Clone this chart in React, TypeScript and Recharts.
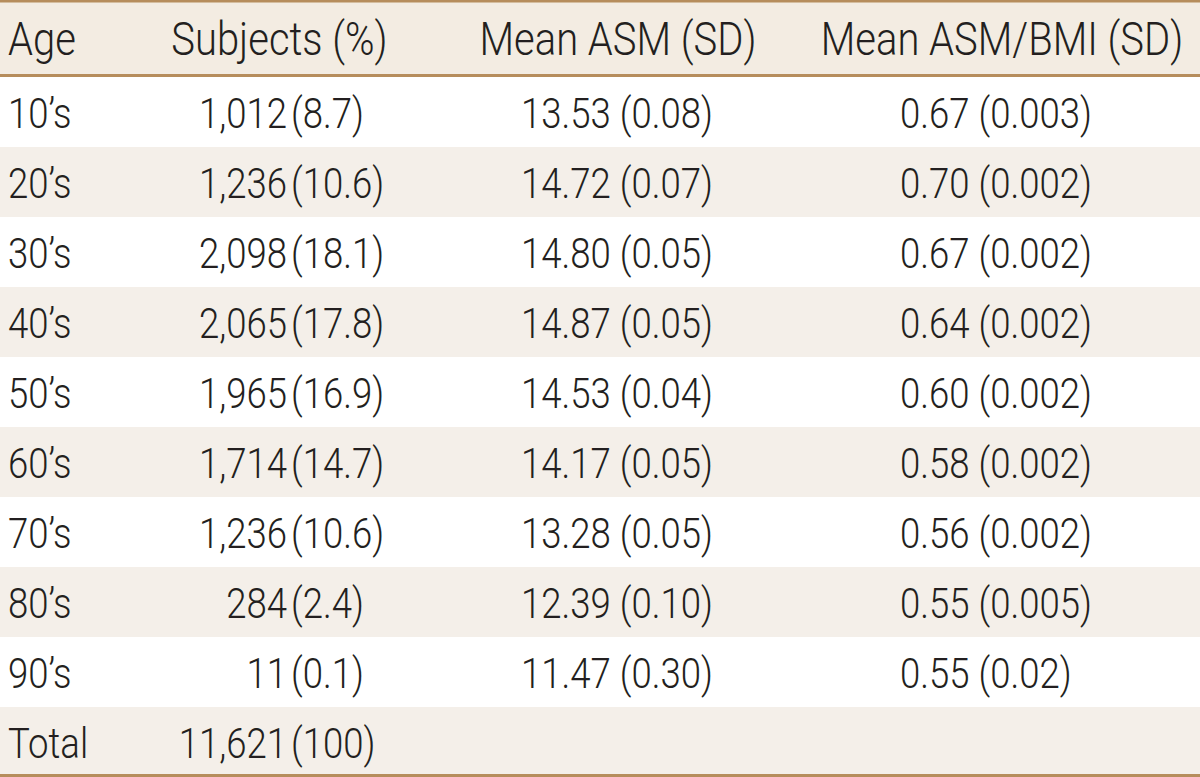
import { BarChart, Bar, XAxis, YAxis } from "recharts";

const headers = ["Age", "Subjects (%)", "Mean ASM (SD)", "Mean ASM/BMI (SD)"];
const ages = ["10’s", "20’s", "30’s", "40’s", "50’s", "60’s", "70’s", "80’s", "90’s", "Total"];
const subjectN = ["1,012", "1,236", "2,098", "2,065", "1,965", "1,714", "1,236", "284", "11", "11,621"];
const subjectPct = ["8.7", "10.6", "18.1", "17.8", "16.9", "14.7", "10.6", "2.4", "0.1", "100"];
const asmMean = ["13.53", "14.72", "14.80", "14.87", "14.53", "14.17", "13.28", "12.39", "11.47", ""];
const asmSd = ["0.08", "0.07", "0.05", "0.05", "0.04", "0.05", "0.05", "0.10", "0.30", ""];
const bmiMean = ["0.67", "0.70", "0.67", "0.64", "0.60", "0.58", "0.56", "0.55", "0.55", ""];
const bmiSd = ["0.003", "0.002", "0.002", "0.002", "0.002", "0.002", "0.002", "0.005", "0.02", ""];

const LINE = "#b68d5c";
const HEAD_BG = "#f3ece2";
const STRIPE = "#f4efe9";
const INK = "#231f20";
const FONT = "Roboto, 'Noto Sans', sans-serif";
const SQUEEZE = 0.85;

const rows = [
  { key: "head", band: 1 },
  ...ages.map((a) => ({ key: a, band: 1 })),
];

// condensed-looking text: light face squeezed horizontally
function T({ x, y, anchor = "start", size = 43, children }: any) {
  return (
    <text
      transform={`translate(${x} ${y}) scale(${SQUEEZE} 1)`}
      x={0}
      y={0}
      textAnchor={anchor}
      fontFamily={FONT}
      fontSize={size}
      fontWeight={300}
      fill={INK}
    >
      {children}
    </text>
  );
}

function RowShape(props: any) {
  const { x, y, width, height, index } = props;
  const mid = y + height / 2;

  if (index === 0) {
    const base = mid + 12.5;
    return (
      <g>
        <rect x={x} y={0} width={width} height={y + height} fill={HEAD_BG} />
        <rect x={x} y={0} width={width} height={2.5} fill={LINE} />
        <rect x={x} y={y + height - 3} width={width} height={3} fill={LINE} />
        <T x={8} y={base} size={47}>{headers[0]}</T>
        <T x={279.5} y={base} size={47} anchor="middle">{headers[1]}</T>
        <T x={618} y={base} size={47} anchor="middle">{headers[2]}</T>
        <T x={1002} y={base} size={47} anchor="middle">{headers[3]}</T>
      </g>
    );
  }

  const i = index - 1;
  const base = mid + 15.5;
  const last = i === ages.length - 1;
  return (
    <g>
      <rect x={x} y={y} width={width} height={height} fill={i % 2 === 1 ? STRIPE : "#ffffff"} />
      {last && <rect x={x} y={y + height - 3} width={width} height={3} fill={LINE} />}
      <T x={8} y={base}>{ages[i]}</T>
      <T x={287} y={base} anchor="end">{subjectN[i]}</T>
      <T x={291} y={base}>({subjectPct[i]})</T>
      {asmMean[i] && <T x={521} y={base}>{asmMean[i]} ({asmSd[i]})</T>}
      {bmiMean[i] && <T x={900} y={base}>{bmiMean[i]} ({bmiSd[i]})</T>}
    </g>
  );
}

export default function App() {
  return (
    <div style={{ position: "fixed", left: 0, top: 0, background: "#ffffff" }}>
      <BarChart
        width={1200}
        height={777}
        data={rows}
        layout="vertical"
        margin={{ top: 7, right: 0, bottom: 0, left: 0 }}
        barCategoryGap={0}
        barGap={0}
      >
        <XAxis type="number" domain={[0, 1]} hide />
        <YAxis type="category" dataKey="key" hide />
        <Bar dataKey="band" isAnimationActive={false} shape={RowShape} />
      </BarChart>
    </div>
  );
}
